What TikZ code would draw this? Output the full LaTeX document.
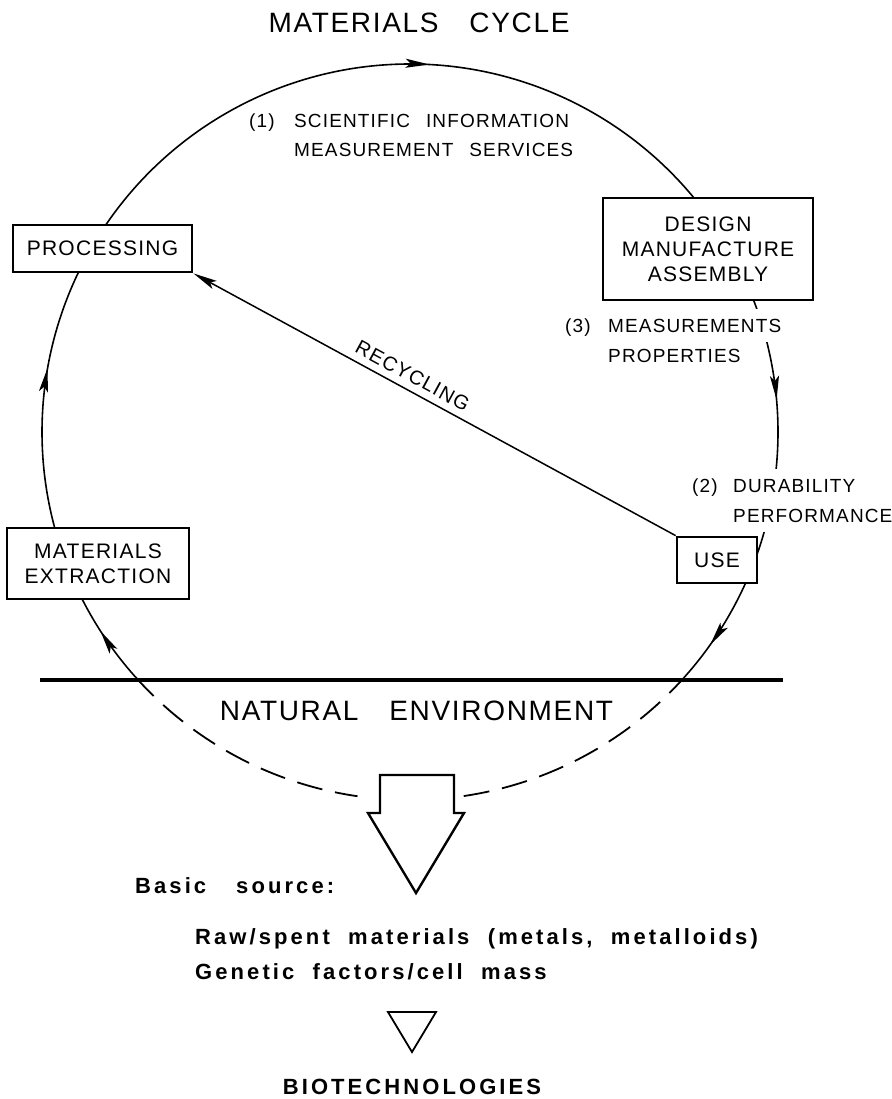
\documentclass[tikz,border=0pt]{standalone}
\usepackage{fontspec}
\setmainfont{Liberation Sans}
\newfontfamily\capsfont{Liberation Sans}[LetterSpace=6]
\newfontfamily\lblfont{Liberation Sans}[LetterSpace=6, WordSpace=2.5]
\newfontfamily\btmfont{Liberation Sans}[LetterSpace=14, WordSpace=2]
\usetikzlibrary{arrows.meta,decorations.markings}
\tikzset{
  tipA/.tip={Stealth[length=24pt,width=9pt,inset=5pt]},
  cyc/.style={line width=1.6pt},
  dashcyc/.style={line width=1.8pt,dash pattern=on 26pt off 13pt},
  midarrow/.style={postaction={decorate,decoration={markings,mark=at position #1 with {\arrow{tipA}}}}},
  box/.style={draw,line width=2.8pt,fill=white,align=center,inner sep=0pt,
    font={\capsfont\fontsize{21}{25}\selectfont}},
  lbl/.style={inner sep=0pt,anchor=base west,font={\lblfont\fontsize{19}{29}\selectfont}},
  lblw/.style={lbl,fill=white,inner xsep=0pt,inner ysep=9.5pt},
  big/.style={inner sep=0pt,anchor=base,font={\capsfont\fontsize{28}{32}\selectfont}},
  btm/.style={inner sep=0pt,font={\btmfont\bfseries\fontsize{22}{26}\selectfont}},
}
\begin{document}
\begin{tikzpicture}[x=1pt,y=-1pt]
\useasboundingbox (0,0) rectangle (891,1099);
% circle centre
\coordinate (C) at (410,432);
\coordinate (t0) at ([shift={(148:368pt)}]C);
\coordinate (r0) at ([shift={(22:368pt)}]C);
\coordinate (u0) at ([shift={(-21:368pt)}]C);
\coordinate (l0) at ([shift={(200:368pt)}]C);
\coordinate (g0) at ([shift={(221.8:368pt)}]C);
\coordinate (g1) at ([shift={(278.4:368pt)}]C);
% cycle arcs
\draw[cyc,midarrow=0.55] (t0) arc[start angle=148,end angle=37,radius=368pt];
\draw[cyc,midarrow=0.395] (r0) arc[start angle=22,end angle=-21,radius=368pt];
\draw[cyc,midarrow=0.67] (u0) arc[start angle=-21,end angle=-42.4,radius=368pt];
\draw[cyc,midarrow=0.60] (l0) arc[start angle=200,end angle=150,radius=368pt];
\draw[cyc,midarrow=0.54] (g0) arc[start angle=221.8,end angle=205,radius=368pt];
% dashed part in the natural environment
\draw[dashcyc] (g0) arc[start angle=221.8,end angle=261.8,radius=368pt];
\draw[dashcyc] (g1) arc[start angle=278.4,end angle=317.6,radius=368pt];
% ground line
\draw[line width=3.6pt] (40,680) -- (783,680);
% boxes
\node[box,minimum width=179pt,minimum height=47pt] (proc) at (102.5,248.5) {PROCESSING};
\node[box,minimum width=210pt,minimum height=102pt] (design) at (708,249) {DESIGN\\MANUFACTURE\\ASSEMBLY};
\node[box,minimum width=182pt,minimum height=71pt] (ext) at (98,563.5) {MATERIALS\\EXTRACTION};
\node[box,minimum width=80pt,minimum height=46pt] (use) at (717,560) {USE};
% titles
\node[big] (title) at (419,32.5) {MATERIALS\hspace{1.1em}CYCLE};
\node[big] (nat) at (416.5,720) {NATURAL\hspace{1.1em}ENVIRONMENT};
% labels
\node[lbl] (n1) at (249,128) {(1)};
\node[lbl] (l1a) at (294,128) {SCIENTIFIC INFORMATION};
\node[lbl] (l1b) at (294,157) {MEASUREMENT SERVICES};
\node[lbl] (n3) at (565,332) {(3)};
\node[lblw] (l3a) at (608,332) {MEASUREMENTS};
\node[lbl] (l3b) at (608,362) {PROPERTIES};
\node[lbl] (n2) at (692,492) {(2)};
\node[lblw] (l2a) at (733,492) {DURABILITY};
\node[lblw] (l2b) at (733,522) {PERFORMANCE};
% recycling
\draw[line width=1.5pt,-{tipA}] (use.north west) -- node[pos=0.56,sloped,above=7pt,inner sep=0pt,
  font={\capsfont\fontsize{20}{24}\selectfont}] (rec) {RECYCLING} (proc.south east);
% block arrow
\draw[line width=2.4pt,fill=white] (380,775) -- (454,775) -- (454,813) -- (464,813)
  -- (416,893) -- (368,813) -- (380,813) -- cycle;
% bottom text
\node[btm,anchor=base west] (bs) at (135,893) {Basic\hspace{30pt}source:};
\node[btm,anchor=base west] (raw) at (195,944) {Raw/spent materials (metals, metalloids)};
\node[btm,anchor=base west] (gen) at (195,979) {Genetic factors/cell mass};
\draw[line width=1.8pt] (388,1012) -- (436,1012) -- (412,1052) -- cycle;
\node[btm,anchor=base] (bio) at (412,1094) {BIOTECHNOLOGIES};
\end{tikzpicture}
\end{document}
